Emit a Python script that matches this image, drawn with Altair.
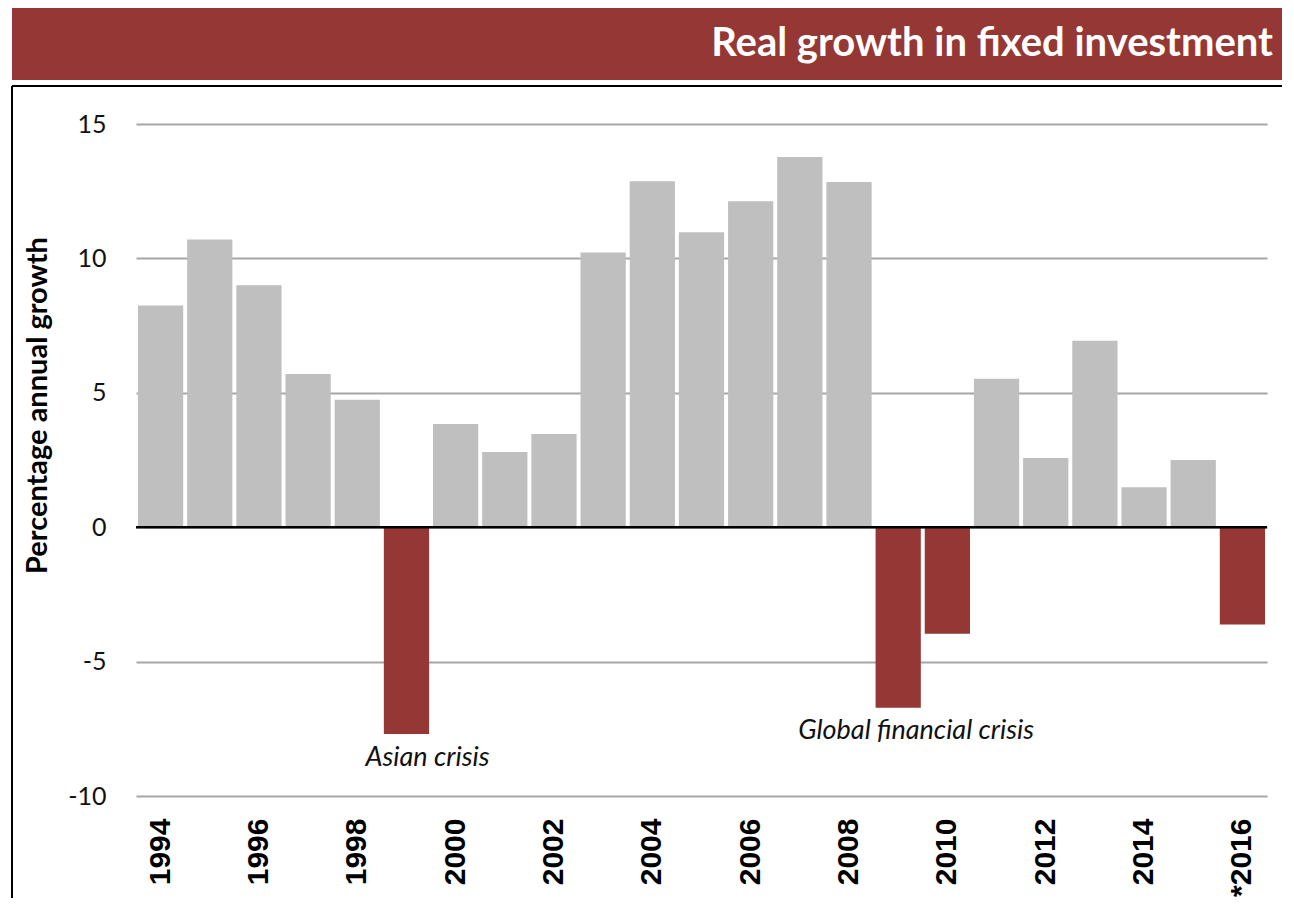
import altair as alt
import pandas as pd

years = ["1994", "1995", "1996", "1997", "1998", "1999", "2000", "2001", "2002", "2003",
         "2004", "2005", "2006", "2007", "2008", "2009", "2010", "2011", "2012", "2013",
         "2014", "2015", "*2016"]
growth = [8.25, 10.7, 9.0, 5.7, 4.74, -7.69, 3.84, 2.8, 3.47, 10.22,
          12.87, 10.97, 12.13, 13.77, 12.84, -6.72, -3.96, 5.52, 2.57, 6.94,
          1.49, 2.5, -3.62]
label_years = ["1994", "1996", "1998", "2000", "2002", "2004", "2006", "2008",
               "2010", "2012", "2014", "*2016"]
y_ticks = [-10, -5, 0, 5, 10, 15]

ann_text = ["Asian crisis", "Global financial crisis"]
ann_year = ["1999", "2009"]
ann_value = [-8.6, -7.6]
ann_dx = [21, 18]

title_text = "Real growth in fixed investment"
RED = "#953735"
GREY = "#bfbfbf"

df = pd.DataFrame({"year": years, "growth": growth})
df["neg"] = df["growth"] < 0
one = pd.DataFrame({"a": [0]})

W, H = 1131, 672

xscale = alt.Scale(domain=years, paddingInner=0.08, paddingOuter=0.04)
yscale = alt.Scale(domain=[-10, 15], nice=False, zero=False)

bars = alt.Chart(df).mark_bar().encode(
    x=alt.X("year:N", scale=xscale, sort=years,
            axis=alt.Axis(values=label_years, title=None, labelAngle=-90, domain=False, ticks=False,
                          labelFont="Liberation Sans", labelFontWeight="bold", labelFontSize=30,
                          labelColor="#000000", labelPadding=22, grid=False)),
    y=alt.Y("growth:Q", scale=yscale,
            axis=alt.Axis(values=y_ticks, title="Percentage annual growth", domain=False, ticks=False,
                          grid=True, gridColor="#a6a6a6", gridWidth=2,
                          labelExpr="datum.value + ''",
                          labelFont="Lato", labelFontSize=25, labelColor="#111111", labelPadding=30,
                          titleFont="Lato", titleFontWeight="bold", titleFontSize=29, titleColor="#000000",
                          titleX=-99, titleY=281, titleAngle=-90, titleAlign="center",
                          titleBaseline="middle")),
    color=alt.Color("neg:N", scale=alt.Scale(domain=[False, True], range=[GREY, RED]), legend=None),
)

zero = alt.Chart(one).mark_rule(color="#000000", strokeWidth=2.5).encode(y=alt.datum(0))

ann_layers = []
for t, yr, v, d in zip(ann_text, ann_year, ann_value, ann_dx):
    adf = pd.DataFrame({"text": [t], "year": [yr], "value": [v]})
    ann_layers.append(
        alt.Chart(adf).mark_text(font="Lato", fontStyle="italic", fontSize=27, dx=d,
                                 color="#111111", align="center", baseline="middle").encode(
            x=alt.X("year:N", scale=xscale, sort=years),
            y=alt.Y("value:Q", scale=yscale),
            text="text:N",
        )
    )

banner = alt.Chart(one).mark_rect(color=RED).encode(
    x=alt.value(-124), x2=alt.value(1170), y=alt.value(-116), y2=alt.value(-44))
frame_top = alt.Chart(one).mark_rule(color="#000000", strokeWidth=2).encode(
    x=alt.value(-124), x2=alt.value(1400), y=alt.value(-38))
frame_left = alt.Chart(one).mark_rule(color="#000000", strokeWidth=2).encode(
    x=alt.value(-124), y=alt.value(-38), y2=alt.value(1000))
title = alt.Chart(one).mark_text(font="Lato", fontWeight="bold", fontSize=40, color="#ffffff",
                                 align="right", baseline="middle").encode(
    x=alt.value(1137), y=alt.value(-80), text=alt.value(title_text))

chart = alt.layer(frame_top, frame_left, banner, title, bars, zero, *ann_layers).properties(
    width=W, height=H,
    autosize=alt.AutoSizeParams(type="none"),
    padding={"left": 128, "top": 116, "right": 15, "bottom": 102},
).configure(background="#ffffff").configure_view(stroke=None)

chart.save("out.html", embed_options={"renderer": "svg", "actions": False})
